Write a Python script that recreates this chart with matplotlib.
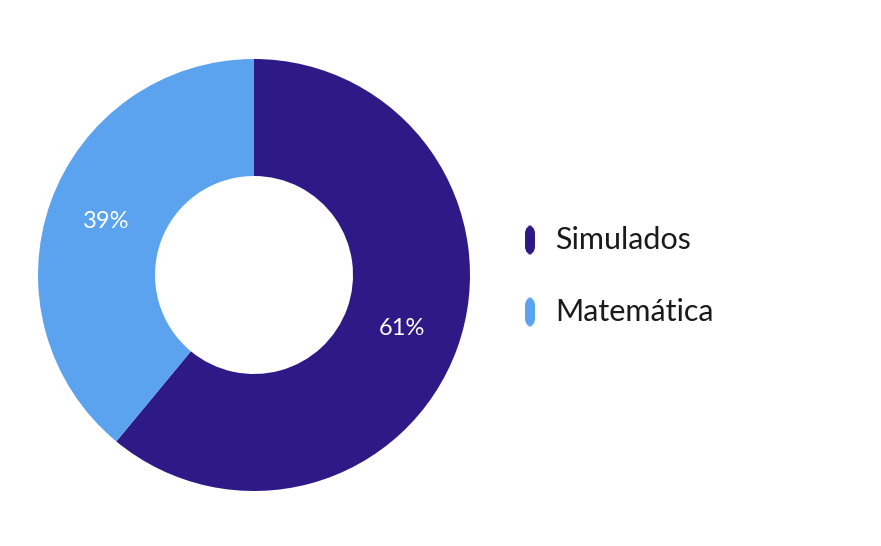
import matplotlib
matplotlib.use("Agg")
import matplotlib.pyplot as plt
from matplotlib.patches import FancyBboxPatch

categories = ["Simulados", "Matemática"]
values = [61, 39]
colors = ["#2E1A87", "#5BA3EE"]

W, H = 881, 546
fig = plt.figure(figsize=(W/100, H/100), dpi=100)
ax = fig.add_axes([38/W, 55/H, 432/W, 432/H])
wedges, texts = ax.pie(values, colors=colors, startangle=90, counterclock=False,
                       radius=1.0, wedgeprops=dict(width=1 - 99/216, linewidth=0))
ax.set_aspect("equal")
ax.set_xlim(-1, 1); ax.set_ylim(-1, 1)
ax.axis("off")

import numpy as np
start = 90
r = (1 + 99/216) / 2
for v, w in zip(values, wedges):
    mid = np.deg2rad((w.theta1 + w.theta2) / 2)
    ax.text(r*np.cos(mid)*1.0, r*np.sin(mid), f"{v}%", color="white",
            fontsize=17, ha="center", va="center", family="Lato")

for i, (c, col) in enumerate(zip(categories, colors)):
    yc = 240 + i*72
    fig.patches.append(FancyBboxPatch((525/W, (H - yc - 15)/H), 10/W, 30/H,
                       boxstyle="round,pad=0,rounding_size=0.01",
                       transform=fig.transFigure, facecolor=col, edgecolor="none",
                       mutation_aspect=W/H))
    fig.text(555/W, (H - yc)/H, c, fontsize=22, va="center", ha="left",
             color="#1a1a1a", family="Lato")

fig.savefig("out.png", dpi=100, facecolor="white")
